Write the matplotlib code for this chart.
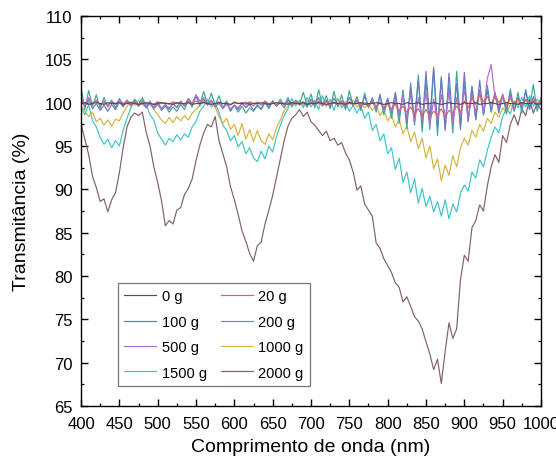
import numpy as np
import matplotlib
matplotlib.use("Agg")
import matplotlib.pyplot as plt
from matplotlib.ticker import MultipleLocator

plt.rcParams['font.family'] = ['Liberation Sans', 'DejaVu Sans']

# comprimento de onda, passo de 5 nm
wl = np.arange(400, 1001, 5)

t_0g = [
    99.9, 100.0, 99.8, 99.9, 100.0, 99.9, 99.8, 100.0, 99.9, 99.9, 100.0, 99.8, 99.9, 100.0, 99.9, 99.8,
    99.9, 100.0, 99.9, 99.8, 99.9, 100.0, 99.9, 99.9, 99.8, 100.0, 99.9, 99.9, 100.0, 99.8, 99.9, 99.9,
    100.0, 99.9, 99.8, 99.9, 100.0, 99.9, 99.9, 99.8, 100.0, 99.9, 99.9, 100.0, 99.8, 99.9, 99.9, 100.0,
    99.9, 99.8, 99.9, 100.0, 99.9, 99.9, 99.8, 100.0, 99.9, 99.9, 100.0, 99.8, 99.9, 99.9, 100.0, 99.9,
    99.8, 99.9, 100.0, 99.9, 99.9, 99.8, 100.0, 99.9, 99.9, 100.0, 99.8, 99.9, 99.9, 100.0, 99.9, 99.8,
    99.9, 100.0, 99.9, 99.9, 99.8, 100.0, 99.9, 99.9, 100.0, 99.8, 99.9, 99.9, 100.0, 99.9, 99.8, 99.9,
    100.0, 99.9, 99.9, 99.8, 100.0, 99.9, 99.9, 100.0, 99.8, 99.9, 99.9, 100.0, 99.9, 99.8, 99.9, 100.0,
    99.9, 99.9, 99.8, 100.0, 99.9, 99.9, 100.0, 99.8, 99.9]

t_20g = [
    100.2, 99.8, 100.1, 99.9, 100.2, 99.8, 100.0, 99.7, 100.1, 99.9, 100.0, 99.8, 100.1, 99.9, 100.0, 99.8,
    100.1, 99.9, 100.0, 99.8, 100.1, 99.9, 100.0, 99.8, 100.1, 99.9, 100.0, 99.8, 100.1, 99.9, 100.2, 99.9,
    100.1, 99.8, 100.0, 99.8, 100.1, 99.9, 100.0, 99.7, 100.1, 99.9, 100.0, 99.8, 100.1, 99.9, 100.0, 99.8,
    100.1, 99.9, 100.0, 99.8, 100.1, 99.9, 100.0, 99.8, 100.1, 99.9, 100.0, 99.8, 100.1, 99.9, 100.0, 99.8,
    100.1, 99.9, 100.0, 99.8, 100.1, 99.9, 100.0, 99.8, 100.1, 99.8, 100.0, 99.7, 100.1, 99.6, 100.0, 99.5,
    99.9, 99.3, 99.8, 99.1, 99.6, 98.9, 99.5, 98.7, 99.3, 98.5, 99.2, 98.4, 99.0, 98.6, 99.3, 98.3,
    99.1, 98.8, 99.6, 99.0, 100.2, 99.4, 100.6, 99.8, 100.9, 100.1, 100.7, 99.8, 100.9, 100.0, 100.6, 99.7,
    100.4, 99.9, 100.5, 99.8, 100.3, 100.0, 100.2, 99.9, 100.1]

t_100g = [
    100.8, 99.6, 100.4, 99.3, 99.9, 99.1, 99.7, 99.0, 99.8, 99.2, 100.1, 99.5, 100.3, 99.8, 100.2, 99.6,
    100.0, 99.4, 99.9, 99.5, 100.1, 99.3, 99.8, 99.2, 99.9, 99.4, 100.2, 99.6, 100.5, 99.8, 100.7, 99.9,
    100.4, 99.7, 100.3, 99.5, 100.0, 99.3, 99.9, 99.1, 99.7, 99.2, 100.0, 99.4, 99.8, 99.1, 99.6, 99.3,
    100.1, 99.5, 100.2, 99.6, 100.0, 99.4, 100.3, 99.8, 100.2, 99.7, 100.1, 99.5, 100.4, 99.8, 100.6, 99.6,
    100.3, 99.5, 100.5, 99.7, 100.2, 99.4, 100.6, 99.8, 100.3, 99.5, 100.7, 99.6, 100.4, 99.3, 100.8, 99.1,
    100.5, 98.8, 101.2, 98.4, 100.9, 97.8, 101.6, 98.2, 102.4, 97.5, 103.6, 98.0, 104.1, 97.2, 102.8, 96.8,
    103.4, 97.6, 102.2, 96.9, 103.5, 97.8, 101.8, 98.0, 102.6, 98.6, 101.4, 99.0, 101.2, 98.8, 100.9, 99.3,
    101.0, 99.1, 100.6, 99.4, 101.3, 99.2, 100.7, 99.5, 100.4]

t_200g = [
    101.8, 99.2, 101.4, 99.6, 100.9, 99.3, 100.6, 99.5, 100.3, 99.4, 100.5, 99.7, 100.2, 99.6, 100.4, 99.8,
    100.6, 99.5, 100.2, 99.3, 99.9, 99.1, 99.6, 98.9, 99.5, 99.0, 99.8, 99.2, 100.3, 99.5, 100.9, 99.6,
    101.3, 99.8, 101.1, 99.7, 100.8, 99.4, 100.2, 99.0, 99.7, 98.9, 99.6, 98.8, 99.4, 99.0, 99.8, 99.2,
    100.0, 99.3, 100.2, 99.6, 100.4, 99.7, 100.6, 99.5, 100.3, 99.8, 101.2, 99.6, 101.0, 99.4, 101.5, 99.7,
    100.8, 99.3, 101.3, 99.5, 100.9, 99.2, 101.4, 99.6, 100.7, 99.1, 101.1, 99.4, 100.6, 98.9, 101.0, 98.6,
    100.4, 98.2, 100.9, 97.6, 101.5, 97.0, 102.3, 97.4, 103.2, 96.6, 102.5, 96.9, 103.8, 96.2, 103.0, 97.0,
    102.1, 96.5, 103.6, 97.3, 102.4, 97.9, 101.9, 98.1, 101.5, 98.6, 102.0, 98.9, 101.1, 99.2, 100.8, 98.7,
    101.6, 99.0, 101.2, 98.8, 101.5, 99.3, 102.1, 99.0, 100.6]

t_500g = [
    100.4, 99.8, 100.6, 99.9, 100.3, 99.7, 100.2, 99.6, 100.1, 99.8, 100.3, 99.9, 100.2, 99.7, 100.0, 99.6,
    100.1, 99.5, 99.9, 99.3, 99.8, 99.2, 99.7, 99.4, 99.9, 99.5, 100.1, 99.6, 100.4, 99.9, 100.9, 100.2,
    100.6, 99.8, 100.2, 99.6, 99.9, 99.4, 99.8, 99.3, 99.7, 99.4, 99.9, 99.5, 100.0, 99.6, 100.1, 99.7,
    100.2, 99.8, 100.0, 99.7, 100.1, 99.8, 100.0, 99.7, 100.2, 99.9, 100.1, 99.8, 100.0, 99.7, 100.2, 99.8,
    100.1, 99.7, 100.0, 99.8, 100.2, 99.6, 100.1, 99.7, 100.3, 99.6, 100.0, 99.5, 100.2, 99.4, 100.1, 99.3,
    99.9, 99.0, 100.4, 98.6, 100.8, 98.2, 101.0, 97.6, 100.6, 98.0, 101.2, 97.4, 100.4, 97.9, 100.9, 98.1,
    101.3, 97.7, 100.6, 98.4, 101.5, 98.2, 100.8, 98.9, 101.2, 99.0, 102.8, 104.4, 100.6, 99.5, 101.0, 99.4,
    100.7, 99.8, 100.5, 99.6, 100.4, 99.9, 100.3, 99.7, 100.2]

t_1000g = [
    99.6, 99.0, 98.4, 98.9, 97.8, 98.2, 97.4, 98.0, 97.3, 98.1, 97.9, 98.8, 99.6, 100.1, 99.7, 100.3,
    99.8, 99.5, 99.9, 99.2, 98.6, 98.0, 97.6, 98.3, 97.7, 98.4, 97.9, 98.5, 98.0, 98.8, 99.2, 99.7,
    100.2, 99.8, 100.1, 99.5, 98.4, 97.6, 98.2, 96.9, 97.5, 96.2, 97.6, 95.8, 96.9, 95.5, 96.8, 95.6,
    95.2, 96.4, 95.7, 97.1, 98.0, 99.1, 99.6, 100.0, 99.8, 100.2, 99.7, 100.1, 99.9, 100.3, 99.8, 100.0,
    99.6, 100.2, 99.9, 100.4, 99.7, 100.1, 99.8, 100.3, 99.5, 100.0, 99.4, 99.9, 99.1, 99.6, 98.5, 99.2,
    97.9, 98.6, 97.2, 98.1, 96.4, 97.3, 95.5, 96.6, 94.7, 95.9, 93.6, 95.0, 92.4, 93.5, 91.0, 92.8,
    91.6, 93.9, 92.6, 94.8, 95.9, 95.1, 96.8, 96.0, 97.5, 96.7, 98.2, 97.6, 98.9, 98.3, 99.4, 98.8,
    99.8, 99.2, 100.1, 99.6, 100.3, 99.8, 100.2, 99.7, 100.0]

t_1500g = [
    99.5, 98.6, 99.8, 97.9, 97.2, 96.0, 95.2, 95.8, 94.8, 95.6, 95.0, 96.8, 98.2, 99.4, 100.2, 99.6,
    100.3, 99.8, 98.6, 98.0, 96.5, 95.8, 95.1, 95.9, 95.5, 96.3, 95.7, 96.4, 96.0, 97.2, 97.8, 99.0,
    99.6, 100.4, 99.5, 99.9, 98.9, 97.4, 96.8, 95.6, 96.2, 94.9, 95.5, 94.1, 94.8, 93.6, 93.2, 94.4,
    93.5, 95.0, 94.3, 96.1, 97.4, 98.5, 99.3, 100.5, 99.6, 100.3, 99.4, 100.6, 99.5, 100.2, 99.2, 100.8,
    99.6, 100.4, 99.1, 100.5, 99.4, 100.1, 99.0, 99.7, 98.8, 99.6, 98.2, 98.9, 96.8, 97.5, 95.6, 96.4,
    94.1, 94.8, 92.3, 93.6, 90.8, 92.0, 89.6, 91.2, 88.4, 90.1, 88.0, 89.2, 87.4, 88.6, 86.9, 88.8,
    86.6, 88.3, 87.4, 89.6, 90.5, 89.8, 92.0, 91.3, 93.4, 92.6, 94.5, 96.0, 97.2, 96.5, 98.4, 99.3,
    98.7, 100.2, 99.4, 100.6, 99.5, 100.8, 99.6, 100.4, 99.8]

t_2000g = [
    97.5, 95.8, 94.0, 91.5, 90.2, 88.6, 88.9, 87.4, 88.8, 89.6, 91.9, 94.8, 97.2, 98.3, 98.8, 98.5,
    98.9, 96.6, 95.0, 92.6, 90.8, 88.7, 85.8, 86.4, 86.0, 87.6, 87.9, 89.4, 90.1, 91.2, 93.3, 95.1,
    96.5, 97.5, 97.2, 98.4, 95.6, 94.1, 92.6, 90.3, 88.8, 87.1, 85.2, 84.0, 82.6, 81.7, 83.5, 83.9,
    86.0, 87.6, 89.3, 91.4, 93.5, 95.6, 97.3, 98.2, 98.6, 99.2, 98.4, 98.9, 97.8, 97.4, 96.8, 96.2,
    96.7, 95.6, 95.9, 95.1, 95.4, 94.2, 93.4, 92.0, 89.9, 90.4, 88.3, 87.6, 86.9, 83.8, 83.2, 82.0,
    81.2, 80.4, 79.2, 78.7, 77.0, 77.6, 76.5, 75.3, 74.8, 73.9, 72.4, 71.0, 69.2, 70.4, 67.6, 71.3,
    74.6, 72.8, 73.9, 79.6, 82.4, 81.7, 85.6, 86.4, 88.2, 87.5, 90.4, 92.6, 94.0, 93.1, 96.2, 95.4,
    97.5, 98.6, 97.4, 99.3, 98.5, 100.4, 98.8, 99.9, 99.2]

labels = ['0 g', '20 g', '100 g', '200 g', '500 g', '1000 g', '1500 g', '2000 g']
series = [t_0g, t_20g, t_100g, t_200g, t_500g, t_1000g, t_1500g, t_2000g]
colors = ['#505050', '#d06a60', '#6a78c4', '#3aa898', '#b070d0', '#d4b43c', '#3cc4c8', '#806068']

fig = plt.figure(figsize=(5.56, 4.64), dpi=100)
ax = fig.add_axes([0.1457, 0.1228, 0.8273, 0.8406])

handles = {}
# desenha a curva mais profunda primeiro, as planas por cima
order = [7, 6, 5, 3, 2, 4, 1, 0]
for i in order:
    ln, = ax.plot(wl, series[i], color=colors[i], lw=0.85, label=labels[i])
    handles[i] = ln

ax.set_xlim(400, 1000)
ax.set_ylim(65, 110)
ax.xaxis.set_major_locator(MultipleLocator(50))
ax.xaxis.set_minor_locator(MultipleLocator(25))
ax.yaxis.set_major_locator(MultipleLocator(5))
ax.yaxis.set_minor_locator(MultipleLocator(2.5))
ax.tick_params(which='both', direction='in', top=True, right=True, labelsize=12)
ax.tick_params(which='major', length=5, width=1)
ax.tick_params(which='minor', length=2.5, width=0.9)
ax.tick_params(axis='x', pad=7)
ax.tick_params(axis='y', pad=6)
for sp in ax.spines.values():
    sp.set_linewidth(1)

ax.set_xlabel('Comprimento de onda (nm)', fontsize=14, labelpad=5)
ax.set_ylabel('Transmitância (%)', fontsize=14, labelpad=11)

# legenda em duas colunas preenchida por linhas
leg_idx = [0, 2, 4, 6, 1, 3, 5, 7]
leg = ax.legend([handles[i] for i in leg_idx], [labels[i] for i in leg_idx],
                ncol=2, loc='lower left', bbox_to_anchor=(0.08, 0.051), borderaxespad=0,
                fontsize=10.5, frameon=True, fancybox=False, edgecolor='#555555',
                handlelength=2.2, handletextpad=0.4, columnspacing=0.9,
                labelspacing=0.78, borderpad=0.45)
leg.get_frame().set_linewidth(0.9)

fig.savefig('out.png', dpi=100)
